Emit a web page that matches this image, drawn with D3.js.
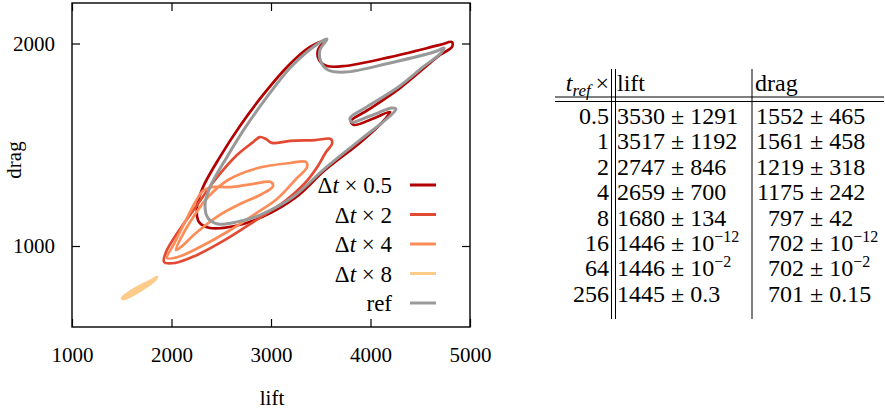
<!DOCTYPE html>
<html>
<head>
<meta charset="utf-8">
<script src="https://cdn.jsdelivr.net/npm/d3@7"></script>
<style>
body { margin: 0; background: #fff; }
svg text { font-family: "Liberation Serif", "Times New Roman", serif; fill: #000; }
</style>
</head>
<body>
<script>
// limit cycles, [lift, drag] traced along each loop
var dt05 = [[3533,2012],[3472,1968],[3482,1919],[3563,1889],[3744,1889],[4196,1933],[4698,1993],[4819,2007],
    [4819,1983],[4698,1943],[4296,1780],[3975,1672],[3804,1617],[3834,1598],[4015,1627],[4196,1662],[4156,1632],
    [3915,1519],[3543,1375],[3241,1237],[2910,1143],[2638,1099],[2387,1089],[2276,1119],[2256,1193],[2317,1291],
    [2487,1440],[2688,1593],[2920,1746],[3171,1889],[3392,1983]];
var dt2 = [[2889,1538],[2950,1528],[3010,1509],[3191,1519],[3442,1523],[3603,1528],[3613,1504],[3553,1464],
    [3472,1395],[3342,1311],[3141,1222],[2839,1124],[2538,1030],[2236,951],[2035,916],[1925,921],[1945,970],
    [2065,1069],[2236,1188],[2437,1326],[2658,1449],[2809,1509]];
var dt4 = [[1955,941],[2025,1010],[2136,1119],[2246,1222],[2317,1272],[2407,1291],[2588,1291],[2809,1306],
    [3000,1316],[3020,1296],[2910,1257],[2709,1212],[2467,1148],[2246,1064],[2095,995],[2045,980],[2105,1049],
    [2226,1148],[2367,1242],[2568,1326],[2869,1385],[3191,1410],[3352,1415],[3362,1390],[3261,1336],[3060,1232],
    [2839,1158],[2558,1069],[2286,995],[2065,946]];
var dt8 = [[1503,743],[1563,768],[1683,803],[1804,832],[1854,847],[1834,832],[1714,788],[1593,753],[1513,738]];
var ref = [[3563,2022],[3492,1968],[3502,1909],[3573,1869],[3744,1859],[4196,1904],[4668,1963],[4739,1978],
    [4708,1953],[4528,1884],[4266,1780],[3945,1682],[3794,1632],[3814,1612],[3995,1642],[4216,1681],[4256,1676],
    [4196,1642],[3894,1523],[3523,1375],[3221,1242],[2889,1153],[2658,1119],[2467,1109],[2367,1138],[2337,1203],
    [2387,1291],[2558,1440],[2739,1583],[2960,1736],[3191,1879],[3412,1978]];

var seriesNames = ["0.5", "2", "4", "8", "ref"];
var seriesColors = ["#b30000", "#e34a33", "#fc8d59", "#fdcc8a", "#999999"];
var xTicks = [1000, 2000, 3000, 4000, 5000];
var yTicks = [1000, 2000];

// table values
var trefRows = ["0.5", "1", "2", "4", "8", "16", "64", "256"];
var liftMean = [3530, 3517, 2747, 2659, 1680, 1446, 1446, 1445];
var liftStd = ["1291", "1192", "846", "700", "134", "10^-12", "10^-2", "0.3"];
var dragMean = [1552, 1561, 1219, 1175, 797, 702, 702, 701];
var dragStd = ["465", "458", "318", "242", "42", "10^-12", "10^-2", "0.15"];

var serif = "Liberation Serif";
var width = 885, height = 411;
var svg = d3.select("body").append("svg")
    .attr("width", width)
    .attr("height", height)
    .attr("font-family", serif);

// every text gets the serif face inline
function txt(parent, size) {
    return parent.append("text")
        .style("font-family", serif)
        .style("font-size", size + "px");
}

var x = d3.scaleLinear().domain([1000, 5000]).range([72, 470]);
var y = d3.scaleLinear().domain([600, 2200]).range([327, 3]);

// loops
var line = d3.line()
    .x(d => x(d[0]))
    .y(d => y(d[1]))
    .curve(d3.curveCatmullRomClosed.alpha(0.5));

var loops = [dt05, dt2, dt4, dt8, ref];
loops.forEach((pts, i) => {
    svg.append("path")
        .attr("d", line(pts))
        .attr("fill", i == 3 ? seriesColors[i] : "none")
        .attr("stroke", seriesColors[i])
        .attr("stroke-width", i == 4 ? 3 : 2.7)
        .attr("stroke-linejoin", "round");
});

// axes, ticks pointing inward
var fs = 21;
var gx = svg.append("g").attr("transform", "translate(0,327)")
    .call(d3.axisBottom(x).tickValues(xTicks).tickSize(-8).tickPadding(20).tickFormat(d3.format("d")));
var gxt = svg.append("g").attr("transform", "translate(0,3)")
    .call(d3.axisTop(x).tickValues(xTicks).tickSize(-8).tickFormat(""));
var gy = svg.append("g").attr("transform", "translate(72,0)")
    .call(d3.axisLeft(y).tickValues(yTicks).tickSize(-8).tickPadding(17).tickFormat(d3.format("d")));
var gyr = svg.append("g").attr("transform", "translate(470,0)")
    .call(d3.axisRight(y).tickValues(yTicks).tickSize(-8).tickFormat(""));
[gx, gxt, gy, gyr].forEach(g => {
    g.attr("font-family", serif);
    g.select(".domain").remove();
    g.selectAll("line").attr("stroke", "#000").attr("stroke-width", 1.2);
    g.selectAll("text").style("font-size", fs + "px").style("font-family", serif);
});

svg.append("rect")
    .attr("x", 72).attr("y", 3)
    .attr("width", 398).attr("height", 324)
    .attr("fill", "none").attr("stroke", "#000").attr("stroke-width", 1.4);

txt(svg, fs)
    .attr("x", 272).attr("y", 405)
    .attr("text-anchor", "middle")
    .text("lift");
txt(svg, fs)
    .attr("transform", "translate(21,160) rotate(-90)")
    .attr("text-anchor", "middle")
    .text("drag");

// legend
seriesNames.forEach((name, i) => {
    let ly = 185 + i * 29.5;
    let t = txt(svg, 23)
        .attr("x", 392).attr("y", ly + 8)
        .attr("text-anchor", "end");
    if (name == "ref") {
        t.text("ref");
    } else {
        t.append("tspan").text("Δ");
        t.append("tspan").style("font-style", "italic").text("t");
        t.append("tspan").text(" × " + name);
    }
    svg.append("line")
        .attr("x1", 410).attr("x2", 436)
        .attr("y1", ly).attr("y2", ly)
        .attr("stroke", seriesColors[i])
        .attr("stroke-width", 3);
});

// table
var tfs = 24;
var col1Right = 609, liftLeft = 617, dragLeft = 756;
var digitW = tfs * 0.5;
var rowY = i => 116 + i * 25.4;

function addStd(sel, s) {
    if (s.indexOf("^") >= 0) {
        let parts = s.split("^");
        sel.append("tspan").text("± " + parts[0]);
        sel.append("tspan")
            .attr("dy", -9)
            .style("font-size", "16px")
            .text(parts[1].replace("-", "\u2212"));
    } else {
        sel.append("tspan").text("± " + s);
    }
}

var head = txt(svg, tfs)
    .attr("x", col1Right).attr("y", 91)
    .attr("text-anchor", "end");
head.append("tspan").style("font-style", "italic").text("t");
head.append("tspan").attr("dy", 5).style("font-style", "italic").style("font-size", "17px").text("ref");
head.append("tspan").attr("dy", -5).text("\u2009×");
txt(svg, tfs).attr("x", liftLeft).attr("y", 91).text("lift");
txt(svg, tfs).attr("x", dragLeft - 1).attr("y", 91).text("drag");

trefRows.forEach((r, i) => {
    let by = rowY(i) + 8;
    txt(svg, tfs).attr("x", col1Right).attr("y", by)
        .attr("text-anchor", "end").text(r);
    [[liftLeft, liftMean[i], liftStd[i]], [dragLeft, dragMean[i], dragStd[i]]].forEach(c => {
        let endX = c[0] + 4 * digitW;
        txt(svg, tfs).attr("x", endX).attr("y", by)
            .attr("text-anchor", "end").text(c[1]);
        let st = txt(svg, tfs).attr("x", endX + 6).attr("y", by);
        addStd(st, c[2]);
    });
});

var rules = svg.append("g").attr("stroke", "#000").attr("stroke-width", 1);
[97, 101.5].forEach(ry => {
    rules.append("line").attr("x1", 555).attr("x2", 884).attr("y1", ry).attr("y2", ry);
});
[611.5, 615.5, 752].forEach(rx => {
    rules.append("line").attr("x1", rx).attr("x2", rx).attr("y1", 69).attr("y2", 319);
});
</script>
</body>
</html>
